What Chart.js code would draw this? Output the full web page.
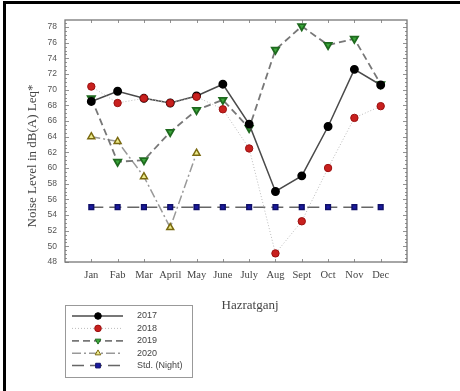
<!DOCTYPE html>
<html>
<head>
<meta charset="utf-8">
<script src="https://cdn.jsdelivr.net/npm/chart.js@4/dist/chart.umd.min.js"></script>
<style>
  html, body { margin: 0; padding: 0; background: #fff; }
  #wrap { position: relative; width: 460px; height: 391px; overflow: hidden; }
  #frame { position: absolute; left: 3px; top: 1px; right: -10px; bottom: -10px;
           border-top: 3px solid #000; border-left: 3px solid #000; }
  canvas { position: absolute; left: 0; top: 0; }
</style>
</head>
<body>
<div id="wrap">
  <div id="frame"></div>
  <canvas id="noiseChart" width="460" height="391"></canvas>
</div>
<script>
// Monthly noise levels, dB(A) Leq
const months = ['Jan', 'Fab', 'Mar', 'April', 'May', 'June', 'July', 'Aug', 'Sept', 'Oct', 'Nov', 'Dec'];
const y2017 = [68.5, 69.8, 68.9, 68.3, 69.2, 70.7, 65.6, 57.0, 59.0, 65.3, 72.6, 70.6];
const y2018 = [70.4, 68.3, 68.9, 68.3, 69.1, 67.5, 62.5, 49.1, 53.2, 60.0, 66.4, 67.9];
const y2019 = [68.9, 60.8, 61.0, 64.6, 67.4, 68.7, 65.1, 75.1, 78.1, 75.7, 76.5, 70.7];
const y2020 = [64.0, 63.4, 58.9, 52.4, 61.9];
const stdNight = [55, 55, 55, 55, 55, 55, 55, 55, 55, 55, 55, 55];
const yTicks = [48, 50, 52, 54, 56, 58, 60, 62, 64, 66, 68, 70, 72, 74, 76, 78];

const pts = arr => arr.map((v, i) => ({ x: i, y: v }));

const chartLeft = 65, chartRight = 407, chartTop = 20, chartBottom = 262;

function drawMarker(ctx, ds, x, y, r) {
  ctx.save();
  ctx.fillStyle = ds.pointBackgroundColor;
  ctx.strokeStyle = ds.pointBorderColor;
  ctx.lineWidth = 1;
  ctx.setLineDash([]);
  Chart.helpers.drawPoint(ctx, { pointStyle: ds.pointStyle, rotation: ds.pointRotation || 0, radius: r, borderWidth: 1 }, x, y);
  ctx.restore();
}

// frame, inward ticks, titles and legend box
const decor = {
  id: 'decor',
  beforeDatasetsDraw(chart) {
    const { ctx, chartArea: a, scales } = chart;
    const ys = scales.y, xs = scales.x;
    ctx.save();
    ctx.strokeStyle = '#777';
    ctx.lineWidth = 1.3;
    ctx.strokeRect(a.left, a.top, a.right - a.left, a.bottom - a.top);
    ctx.lineWidth = 0.8;
    ctx.beginPath();
    for (let v = 48; v <= 78.9; v += 0.5) {
      const py = Math.round(ys.getPixelForValue(v)) + 0.5;
      const len = (v % 2 === 0) ? 4 : 2;
      ctx.moveTo(a.left, py); ctx.lineTo(a.left + len, py);
      ctx.moveTo(a.right, py); ctx.lineTo(a.right - len, py);
    }
    months.forEach((m, i) => {
      const px = Math.round(xs.getPixelForValue(i)) + 0.5;
      ctx.moveTo(px, a.top); ctx.lineTo(px, a.top + 3);
      ctx.moveTo(px, a.bottom); ctx.lineTo(px, a.bottom - 3);
    });
    ctx.stroke();
    ctx.restore();
  },
  afterDraw(chart) {
    const { ctx } = chart;
    ctx.save();
    ctx.fillStyle = '#444';
    ctx.font = '13px "Liberation Serif", "Times New Roman", serif';
    ctx.textAlign = 'center';
    ctx.textBaseline = 'middle';
    ctx.fillText('Hazratganj', 250, 306);
    ctx.translate(33, 156);
    ctx.rotate(-Math.PI / 2);
    ctx.fillText('Noise Level in dB(A) Leq*', 0, 0);
    ctx.restore();

    // legend
    ctx.save();
    ctx.strokeStyle = '#999';
    ctx.lineWidth = 1;
    ctx.strokeRect(65.5, 305.5, 127, 72);
    ctx.font = '9px "Liberation Sans", Arial, sans-serif';
    ctx.textBaseline = 'middle';
    chart.data.datasets.forEach((ds, i) => {
      const ry = 316 + i * 12.4;
      ctx.strokeStyle = ds.borderColor;
      ctx.lineWidth = ds.borderWidth;
      ctx.setLineDash(ds.borderDash || []);
      ctx.beginPath();
      ctx.moveTo(72, ry); ctx.lineTo(123, ry);
      ctx.stroke();
      drawMarker(ctx, ds, 98, ry, 3.3);
      ctx.fillStyle = '#444';
      ctx.fillText(ds.label, 137, ry);
    });
    ctx.restore();
  }
};

new Chart(document.getElementById('noiseChart'), {
  type: 'line',
  data: {
    datasets: [
      {
        label: '2017', data: pts(y2017), order: 1,
        borderColor: '#4a4a4a', borderWidth: 1.5,
        pointStyle: 'circle', pointRadius: 3.7,
        pointBackgroundColor: '#000', pointBorderColor: '#000'
      },
      {
        label: '2018', data: pts(y2018), order: 0,
        borderColor: '#bbb', borderWidth: 1, borderDash: [1, 2],
        pointStyle: 'circle', pointRadius: 3.7,
        pointBackgroundColor: '#c8201e', pointBorderColor: '#9a1010'
      },
      {
        label: '2019', data: pts(y2019), order: 2,
        borderColor: '#777', borderWidth: 1.8, borderDash: [7, 4],
        pointStyle: 'triangle', pointRotation: 180, pointRadius: 4.2,
        pointBackgroundColor: '#3aa83a', pointBorderColor: '#1f6a1f'
      },
      {
        label: '2020', data: pts(y2020), order: 3,
        borderColor: '#999', borderWidth: 1.5, borderDash: [9, 3, 2, 3],
        pointStyle: 'triangle', pointRadius: 4,
        pointBackgroundColor: '#ecea8a', pointBorderColor: '#7a6a10'
      },
      {
        label: 'Std. (Night)', data: pts(stdNight), order: 4,
        borderColor: '#666', borderWidth: 1.5, borderDash: [12, 6],
        pointStyle: 'rect', pointRadius: 3.3,
        pointBackgroundColor: '#1a1a9e', pointBorderColor: '#10106a'
      }
    ]
  },
  options: {
    responsive: false,
    animation: false,
    layout: { padding: { top: chartTop, right: 460 - chartRight, left: 0, bottom: 0 } },
    plugins: { legend: { display: false }, tooltip: { enabled: false } },
    elements: { line: { tension: 0 } },
    scales: {
      x: {
        type: 'linear', min: -1, max: 12,
        grid: { display: false, drawTicks: false },
        border: { display: false },
        afterFit(s) { s.height = 391 - chartBottom; },
        afterBuildTicks(s) { s.ticks = months.map((m, i) => ({ value: i })); },
        ticks: {
          autoSkip: false, maxRotation: 0, padding: 7,
          color: '#444',
          font: { family: '"Liberation Serif", "Times New Roman", serif', size: 10.5 },
          callback: v => months[v] ?? ''
        }
      },
      y: {
        min: 48, max: 78.9,
        grid: { display: false, drawTicks: false },
        border: { display: false },
        afterFit(s) { s.width = chartLeft; },
        afterBuildTicks(s) { s.ticks = yTicks.map(v => ({ value: v })); },
        ticks: {
          padding: 8, color: '#555',
          font: { family: '"Liberation Sans", Arial, sans-serif', size: 8.5 }
        }
      }
    }
  },
  plugins: [decor]
});
</script>
</body>
</html>
